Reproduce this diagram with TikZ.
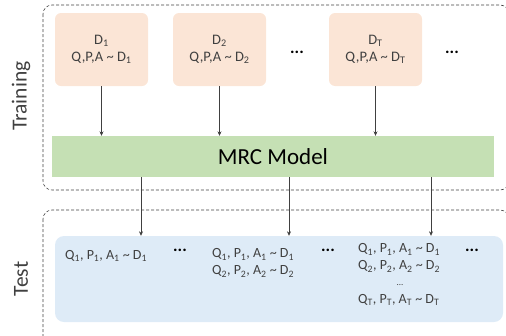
\documentclass[tikz,border=0pt]{standalone}
\usepackage{fontspec}
\setmainfont{Carlito}
\usetikzlibrary{arrows.meta}
\definecolor{txtgray}{HTML}{404040}
\definecolor{pinkfill}{HTML}{FBE5D6}
\definecolor{greenfill}{HTML}{C5E0B4}
\definecolor{bluefill}{HTML}{DEEBF7}

\begin{document}
\begin{tikzpicture}[x=1pt,y=-1pt,>={Stealth[length=4.5pt,width=4pt]},
    font=\fontsize{14.5}{17}\selectfont,
    phase/.style={draw=txtgray,densely dashed,line width=.6pt,rounded corners=9pt},
    side/.style={rotate=90,text=txtgray,font=\fontsize{21.5}{24}\selectfont},
    dset/.style={fill=pinkfill,rounded corners=6pt,minimum width=93pt,minimum height=73pt,
      inner sep=0pt,align=center,text=txtgray},
    sample/.style={anchor=west,align=left,inner sep=0pt,text=txtgray,
      font=\fontsize{14}{17}\selectfont},
    etc/.style={text=black,font=\fontsize{17}{18}\selectfont\bfseries},
    flow/.style={->,draw=txtgray,line width=.6pt}]
  \useasboundingbox (0,0) rectangle (506,335);
  % the two phases
  \draw[phase] (43,5) rectangle (509,190);
  \draw[phase] (43,210) rectangle (509,350);
  \node[side] (train) at (21,96) {Training};
  \node[side] (test) at (21,279) {Test};

  % training sets
  \node[dset] (d1) at (101.5,49.5) {D\textsubscript{1}\\Q,P,A \textasciitilde{} D\textsubscript{1}};
  \node[dset] (d2) at (219.5,49.5) {D\textsubscript{2}\\Q,P,A \textasciitilde{} D\textsubscript{2}};
  \node[dset] (dT) at (375.5,49.5) {D\textsubscript{T}\\Q,P,A \textasciitilde{} D\textsubscript{T}};
  \node[etc] (e1) at (297,52) {...};
  \node[etc] (e2) at (452,52) {...};

  \node[fill=greenfill,minimum width=442pt,minimum height=41pt,inner sep=0pt,
    font=\fontsize{23}{26}\selectfont] (mrc) at (273,156.5) {MRC Model};
  \foreach \d in {d1,d2,dT}
    \draw[flow] (\d) -- (\d |- mrc.north);

  % test samples
  \node[fill=bluefill,rounded corners=9pt,minimum width=448pt,minimum height=86pt,
    inner sep=0pt] (tst) at (279,279) {};
  \node[sample] (s1) at (65,256) {Q\textsubscript{1}, P\textsubscript{1}, A\textsubscript{1} \textasciitilde{} D\textsubscript{1}};
  \node[sample] (s2) at (212,263) {Q\textsubscript{1}, P\textsubscript{1}, A\textsubscript{1} \textasciitilde{} D\textsubscript{1}\\
    Q\textsubscript{2}, P\textsubscript{2}, A\textsubscript{2} \textasciitilde{} D\textsubscript{2}};
  \node[sample] (s3) at (358,258) {Q\textsubscript{1}, P\textsubscript{1}, A\textsubscript{1} \textasciitilde{} D\textsubscript{1}\\
    Q\textsubscript{2}, P\textsubscript{2}, A\textsubscript{2} \textasciitilde{} D\textsubscript{2}};
  \node[text=txtgray,font=\fontsize{9}{10}\selectfont] (vd) at (400,285) {...};
  \node[sample] (s4) at (358,300) {Q\textsubscript{T}, P\textsubscript{T}, A\textsubscript{T} \textasciitilde{} D\textsubscript{T}};
  \node[etc] (e3) at (180,250) {...};
  \node[etc] (e4) at (328,250) {...};
  \node[etc] (e5) at (472,250) {...};

  \coordinate (o1) at (141,177);
  \coordinate (o2) at (289,177);
  \coordinate (o3) at (431,177);
  \foreach \o in {o1,o2,o3}
    \draw[flow] (\o) -- (\o |- tst.north);
\end{tikzpicture}
\end{document}
